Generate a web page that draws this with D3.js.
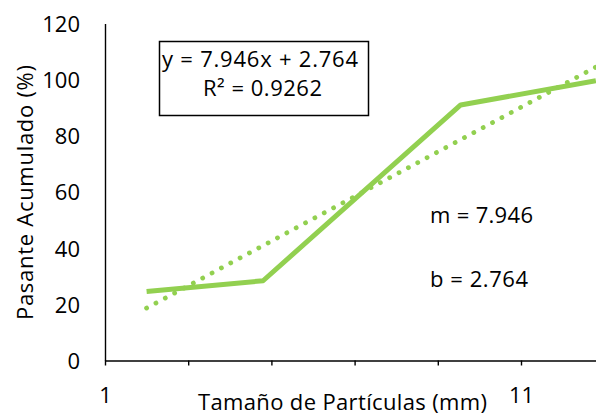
<!DOCTYPE html>
<html>
<head>
<meta charset="utf-8">
<script src="https://cdn.jsdelivr.net/npm/d3@7"></script>
<style>
  html, body { margin: 0; padding: 0; background: #fff; }
  svg { display: block; }
  text { font-family: "Open Sans", "Noto Sans", sans-serif; fill: #000; }
</style>
</head>
<body>
<svg id="chart" width="596" height="415"></svg>
<script>
// Particle size (mm) and cumulative passing (%)
const sizes = [2.0, 4.8, 9.55, 12.8];
const passing = [24.6, 28.4, 91.0, 99.6];

// Linear trendline parameters
const slope = 7.946;
const intercept = 2.764;
const rSquared = 0.9262;

// Axis ticks
const yTicks = [0, 20, 40, 60, 80, 100, 120];
const xTicks = [1, 3, 5, 7, 9, 11, 13];
const xTickLabels = [1, 11];

const svg = d3.select("#chart");
const green = "#92D050";
const fontSize = "22px";

const x = d3.scaleLinear().domain([1, 13]).range([105, 604.2]);
const y = d3.scaleLinear().domain([0, 120]).range([360.5, 23.5]);

// Y axis: line and labels, no tick marks
const yAxis = d3.axisLeft(y).tickValues(yTicks).tickSize(0).tickPadding(25);
const gy = svg.append("g").attr("transform", `translate(${x(1)},0)`).call(yAxis);
gy.select(".domain").attr("stroke", "#000").attr("stroke-width", 1.4);
gy.selectAll(".tick text")
  .style("font-size", fontSize)
  .style("font-family", "'Open Sans', sans-serif")
  .attr("dy", "0.36em");

// X axis: line, tick marks every 2 mm, labels on the major steps
const xAxis = d3.axisBottom(x).tickValues(xTicks).tickSize(5).tickSizeOuter(0)
  .tickFormat(d => xTickLabels.includes(d) ? d : "").tickPadding(22);
const gx = svg.append("g").attr("transform", `translate(0,${y(0)})`).call(xAxis);
gx.select(".domain").attr("stroke", "#000").attr("stroke-width", 1.4);
gx.selectAll(".tick line").attr("stroke", "#000").attr("stroke-width", 1.4);
gx.selectAll(".tick text")
  .style("font-size", fontSize)
  .style("font-family", "'Open Sans', sans-serif");

// Measured curve
const line = d3.line().x((d, i) => x(sizes[i])).y(d => y(d));
svg.append("path")
  .datum(passing)
  .attr("d", line)
  .attr("fill", "none")
  .attr("stroke", green)
  .attr("stroke-width", 5)
  .attr("stroke-linejoin", "round");

// Linear trendline, dotted
const xs = d3.extent(sizes);
svg.append("path")
  .datum(xs)
  .attr("d", d3.line().x(d => x(d)).y(d => y(slope * d + intercept)))
  .attr("fill", "none")
  .attr("stroke", green)
  .attr("stroke-width", 4.8)
  .attr("stroke-linecap", "round")
  .attr("stroke-dasharray", "0.01 10.6");

// Equation box
svg.append("rect")
  .attr("x", 159.5).attr("y", 41.5)
  .attr("width", 209).attr("height", 74)
  .attr("fill", "#fff").attr("stroke", "#000").attr("stroke-width", 1.5);

svg.append("text")
  .attr("x", 162).attr("y", 67)
  .attr("textLength", 196)
  .style("font-size", fontSize)
  .text(`y = ${slope}x + ${intercept}`);

svg.append("text")
  .attr("x", 203).attr("y", 96)
  .attr("textLength", 119)
  .style("font-size", fontSize)
  .text(`R² = ${rSquared}`);

// Parameter annotations
svg.append("text")
  .attr("x", 430).attr("y", 223)
  .attr("textLength", 103)
  .style("font-size", fontSize)
  .text(`m = ${slope}`);

svg.append("text")
  .attr("x", 430).attr("y", 287)
  .attr("textLength", 98)
  .style("font-size", fontSize)
  .text(`b = ${intercept}`);

// Axis titles
svg.append("text")
  .attr("x", 198).attr("y", 410)
  .attr("textLength", 289)
  .style("font-size", fontSize)
  .text("Tamaño de Partículas (mm)");

svg.append("text")
  .attr("transform", "translate(33,320) rotate(-90)")
  .attr("textLength", 255)
  .style("font-size", fontSize)
  .text("Pasante Acumulado (%)");
</script>
</body>
</html>
